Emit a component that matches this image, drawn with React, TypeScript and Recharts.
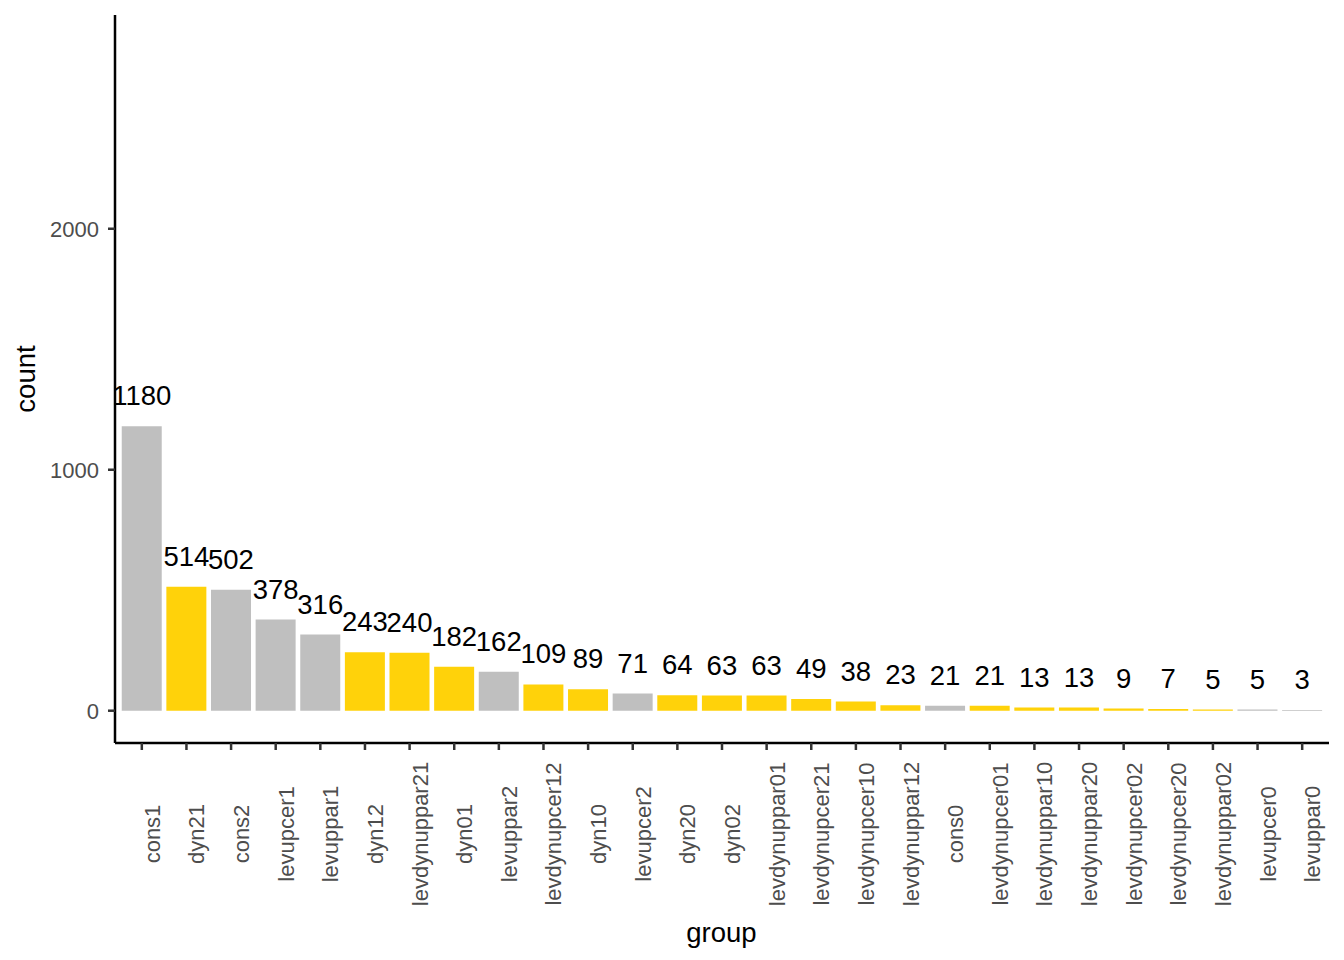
import React from 'react';
import { BarChart, Bar, XAxis, YAxis, Cell, LabelList, Label } from 'recharts';

const groups = [
  'cons1', 'dyn21', 'cons2', 'levupcer1', 'levuppar1', 'dyn12', 'levdynuppar21',
  'dyn01', 'levuppar2', 'levdynupcer12', 'dyn10', 'levupcer2', 'dyn20', 'dyn02',
  'levdynuppar01', 'levdynupcer21', 'levdynupcer10', 'levdynuppar12', 'cons0',
  'levdynupcer01', 'levdynuppar10', 'levdynuppar20', 'levdynupcer02', 'levdynupcer20',
  'levdynuppar02', 'levupcer0', 'levuppar0',
];
const counts = [
  1180, 514, 502, 378, 316, 243, 240, 182, 162, 109, 89, 71, 64, 63, 63, 49, 38, 23,
  21, 21, 13, 13, 9, 7, 5, 5, 3,
];
const yTicks = [0, 1000, 2000];

const GOLD = '#FFD20A';
const GREY = '#BFBFBF';
const FONT = '"Liberation Sans", Arial, Helvetica, sans-serif';

// dynamic groups are highlighted in gold, the rest stay grey
const isDynamic = (g: string) => g.startsWith('dyn') || g.startsWith('levdyn');

const data = groups.map((group, i) => ({ group, count: counts[i] }));

function GroupTick(props: any) {
  const { x, payload } = props;
  return (
    <text
      transform={`translate(${x + 18},834) rotate(-90)`}
      textAnchor="middle"
      fontSize={22}
      fill="#4D4D4D"
      fontFamily={FONT}
    >
      {payload.value}
    </text>
  );
}

export default function App() {
  return (
    <div style={{ position: 'absolute', left: 0, top: 0, width: 1344, height: 960, background: '#fff', fontFamily: FONT }}>
      <BarChart
        width={1344}
        height={960}
        data={data}
        margin={{ top: 15, right: 15, bottom: 0, left: 0 }}
        barCategoryGap="5%"
      >
        <XAxis
          dataKey="group"
          interval={0}
          height={217}
          padding={{ left: 4.5, right: 4.5 }}
          tick={<GroupTick />}
          tickSize={7}
          tickLine={{ stroke: '#333333', strokeWidth: 2.5 }}
          axisLine={{ stroke: '#000', strokeWidth: 2.5 }}
        >
          <Label
            content={() => (
              <text x={721.5} y={941.5} textAnchor="middle" fontSize={27.5} fill="#000" fontFamily={FONT}>
                group
              </text>
            )}
          />
        </XAxis>
        <YAxis
          type="number"
          domain={[-134, 2887]}
          allowDataOverflow
          ticks={yTicks}
          width={115}
          tickSize={7}
          tickMargin={9}
          tick={{ fontSize: 22, fill: '#4D4D4D', fontFamily: FONT }}
          tickLine={{ stroke: '#333333', strokeWidth: 2.5 }}
          axisLine={{ stroke: '#000', strokeWidth: 2.5 }}
        >
          <Label
            content={() => (
              <text
                transform="translate(35,379) rotate(-90)"
                textAnchor="middle"
                fontSize={27.5}
                fill="#000"
                fontFamily={FONT}
              >
                count
              </text>
            )}
          />
        </YAxis>
        <Bar dataKey="count" isAnimationActive={false}>
          {data.map((d) => (
            <Cell key={d.group} fill={isDynamic(d.group) ? GOLD : GREY} />
          ))}
          <LabelList
            dataKey="count"
            position="top"
            offset={21}
            fontSize={27.5}
            fill="#000"
            fontFamily={FONT}
          />
        </Bar>
      </BarChart>
    </div>
  );
}
